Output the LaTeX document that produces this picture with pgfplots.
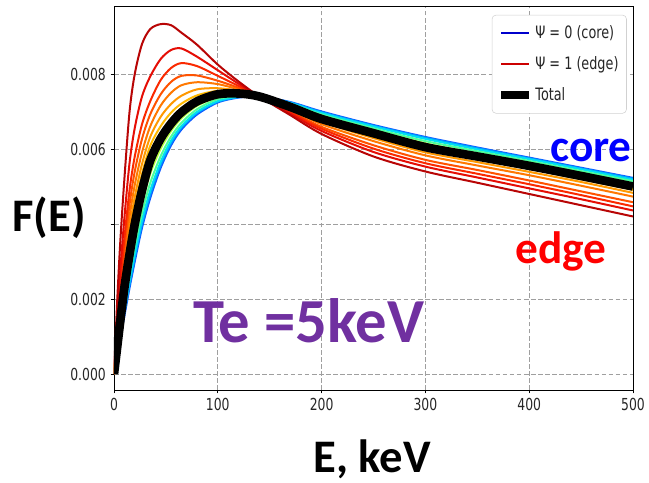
\documentclass[border=0pt]{standalone}
\usepackage{fontspec}
\usepackage{pgfplots}
\pgfplotsset{compat=1.18}
\usepackage{pgfplotstable}
\setmainfont{DejaVu Sans}
\newfontfamily\mplfont[FakeStretch=0.75]{DejaVu Sans}
\newfontfamily\calfont{Carlito}
\definecolor{cD}{rgb}{0.72,0.02,0.02}
\definecolor{cB}{rgb}{0.9,0.05,0.02}
\definecolor{cC}{rgb}{0.98,0.16,0.0}
\definecolor{cE}{rgb}{1.0,0.32,0.0}
\definecolor{cF}{rgb}{1.0,0.47,0.0}
\definecolor{cG}{rgb}{1.0,0.60,0.0}
\definecolor{cH}{rgb}{1.0,0.72,0.0}
\definecolor{cI}{rgb}{1.0,0.85,0.1}
\definecolor{gA}{rgb}{0.72,1.0,0.25}
\definecolor{gB}{rgb}{0.3,1.0,0.6}
\definecolor{gC}{rgb}{0.0,0.88,0.95}
\definecolor{gD}{rgb}{0.0,0.62,1.0}
\definecolor{gE}{rgb}{0.05,0.35,1.0}
\definecolor{tepurple}{RGB}{112,48,160}
\pgfplotstableread{
E   D       c2      c3      c4      c5      c6      c7      c8      B       g35     g60     g80     g90     C
0   0       0       0       0       0       0       0       0       0       0       0       0       0       0
3   0.0019  0.00147 0.00124 0.00112 0.00101 0.00092 0.00083 0.00076 0.0007  0.00063 0.00058 0.00054 0.00052 0.0005
6   0.0035  0.00274 0.00235 0.00214 0.00195 0.00178 0.00163 0.00151 0.0014  0.00126 0.00116 0.00108 0.00104 0.0010
10  0.0052  0.00416 0.00361 0.00332 0.00305 0.00282 0.00262 0.00245 0.0023  0.00204 0.00185 0.0017  0.00163 0.00155
15  0.0070  0.00563 0.00491 0.00453 0.00419 0.00388 0.00362 0.00339 0.0032  0.00289 0.00266 0.00248 0.00239 0.0023
20  0.0080  0.00656 0.0058  0.0054  0.00504 0.00472 0.00444 0.0042  0.0040  0.00365 0.0034  0.0032  0.0031  0.0030
27  0.0088  0.0074  0.00666 0.00627 0.00591 0.0056  0.00533 0.0051  0.0049  0.00455 0.0043  0.0041  0.0040  0.0039
35  0.0092  0.00794 0.00728 0.00693 0.00661 0.00633 0.00609 0.00588 0.0057  0.00535 0.0051  0.0049  0.0048  0.0047
45  0.00933 0.0084  0.00784 0.00746 0.00716 0.00686 0.00661 0.00643 0.00628 0.00601 0.00581 0.00566 0.00558 0.0055
55  0.0093  0.00864 0.00816 0.00779 0.0075  0.0072  0.00697 0.00681 0.00668 0.00648 0.00633 0.00622 0.00616 0.0061
65  0.0091  0.00868 0.00829 0.00795 0.0077  0.00742 0.00721 0.00709 0.00698 0.00682 0.0067  0.00661 0.00657 0.00652
80  0.00878 0.00846 0.00821 0.00796 0.00778 0.00759 0.00743 0.00734 0.00727 0.00715 0.00706 0.00699 0.00696 0.00692
100 0.00825 0.0081  0.00795 0.00782 0.00773 0.00762 0.00755 0.0075  0.00746 0.00738 0.00733 0.00728 0.00726 0.00724
120 0.0078  0.00774 0.00768 0.00763 0.00759 0.00755 0.00752 0.0075  0.00748 0.00744 0.00741 0.00739 0.00738 0.00737
140 0.0074  0.0074  0.0074  0.0074  0.0074  0.0074  0.0074  0.0074  0.0074  0.0074  0.0074  0.0074  0.0074  0.0074
170 0.0069  0.00694 0.00698 0.00701 0.00705 0.00707 0.0071  0.00711 0.00712 0.00717 0.0072  0.00722 0.00724 0.00725
200 0.0064  0.00648 0.00654 0.00659 0.00666 0.00672 0.00676 0.00678 0.0068  0.00687 0.00692 0.00696 0.00698 0.0070
250 0.0058  0.00592 0.00601 0.0061  0.00621 0.00629 0.00635 0.00639 0.00642 0.0065  0.00655 0.0066  0.00662 0.00664
300 0.0054  0.00553 0.00562 0.00571 0.00583 0.00591 0.00598 0.00602 0.00605 0.00615 0.00621 0.00627 0.0063  0.00632
350 0.0051  0.00524 0.00534 0.00544 0.00556 0.00565 0.00572 0.00576 0.0058  0.00588 0.00594 0.00599 0.00602 0.00604
400 0.0048  0.00495 0.00506 0.00516 0.0053  0.00539 0.00547 0.00551 0.00555 0.00563 0.00568 0.00573 0.00575 0.00577
450 0.0045  0.00466 0.00477 0.00487 0.00502 0.00512 0.00519 0.00524 0.00528 0.00536 0.00541 0.00546 0.00548 0.0055
500 0.0042  0.00436 0.00447 0.00458 0.00473 0.00483 0.00491 0.00496 0.0050  0.00508 0.00514 0.00518 0.00521 0.00523
}\spec
\begin{document}
\begin{tikzpicture}
\begin{axis}[
  at={(0,0)}, anchor=south west,
  scale only axis, width=389.25pt, height=288pt,
  xmin=0, xmax=500, ymin=-0.000427, ymax=0.009813,
  xtick={0,100,200,300,400,500}, xticklabels={0,100,200,300,400,500},
  ytick={0,0.002,0.004,0.006,0.008}, yticklabels={0.000,0.002,,0.006,0.008},
  scaled y ticks=false, scaled x ticks=false,
  xtick pos=bottom, ytick pos=left,
  tick align=outside, major tick length=2.6pt,
  tick style={black, line width=0.6pt},
  ticklabel style={font=\mplfont\fontsize{12.4}{14}\selectfont, text=black!85},
  grid=major,
  major grid style={gray!75, line width=0.6pt, dash pattern=on 3.5pt off 1.8pt},
  axis line style={black, line width=0.7pt},
  legend style={at={(rel axis cs:0.988,0.977)}, anchor=north east,
    draw=black!18, rounded corners=3pt, fill=white,
    font=\mplfont\fontsize{12.8}{14}\selectfont, text=black!85,
    row sep=8pt, inner xsep=4pt, inner ysep=6pt},
  legend cell align=left,
  legend image code/.code={\draw[#1] (0pt,0pt) -- (21pt,0pt);},
  every axis plot/.append style={smooth, tension=0.5, line width=1.5pt},
]
\addplot[gE, forget plot] table[x=E, y=C] {\spec};
\addplot[gD, forget plot] table[x=E, y=g90] {\spec};
\addplot[gC, forget plot] table[x=E, y=g80] {\spec};
\addplot[gB, forget plot] table[x=E, y=g60] {\spec};
\addplot[gA, forget plot] table[x=E, y=g35] {\spec};
\addplot[cI, forget plot] table[x=E, y=c8] {\spec};
\addplot[cH, forget plot] table[x=E, y=c7] {\spec};
\addplot[cG, forget plot] table[x=E, y=c6] {\spec};
\addplot[cF, forget plot] table[x=E, y=c5] {\spec};
\addplot[cE, forget plot] table[x=E, y=c4] {\spec};
\addplot[cC, forget plot] table[x=E, y=c3] {\spec};
\addplot[cB, forget plot] table[x=E, y=c2] {\spec};
\addplot[cD, forget plot] table[x=E, y=D] {\spec};
\addplot[black, line width=6.5pt, forget plot] table[x=E, y=B] {\spec};
\addlegendimage{blue!80!black, line width=1.8pt}
\addlegendentry{Ψ = 0 (core)}
\addlegendimage{red!80!black, line width=1.8pt}
\addlegendentry{Ψ = 1 (edge)}
\addlegendimage{black, line width=5.5pt}
\addlegendentry{Total}
\end{axis}
\node[anchor=base west, inner sep=0, font=\calfont\bfseries\fontsize{35}{40}\selectfont] at (-76.5pt,118.5pt) {F(E)};
\node[anchor=base west, inner sep=0, font=\calfont\bfseries\fontsize{35}{40}\selectfont] at (149.25pt,-61.5pt) {E, keV};
\node[anchor=base west, inner sep=0, text=tepurple, font=\calfont\bfseries\fontsize{47}{52}\selectfont] at (59.25pt,36pt) {Te =5keV};
\node[anchor=base west, inner sep=0, text=blue, font=\calfont\bfseries\fontsize{34}{40}\selectfont] at (327pt,171pt) {core};
\node[anchor=base west, inner sep=0, text=red, font=\calfont\bfseries\fontsize{34}{40}\selectfont] at (300.75pt,95.25pt) {edge};
\pgfresetboundingbox
\path[use as bounding box] (-85.5pt,-69pt) rectangle (401.25pt,292.5pt);
\end{tikzpicture}
\end{document}
